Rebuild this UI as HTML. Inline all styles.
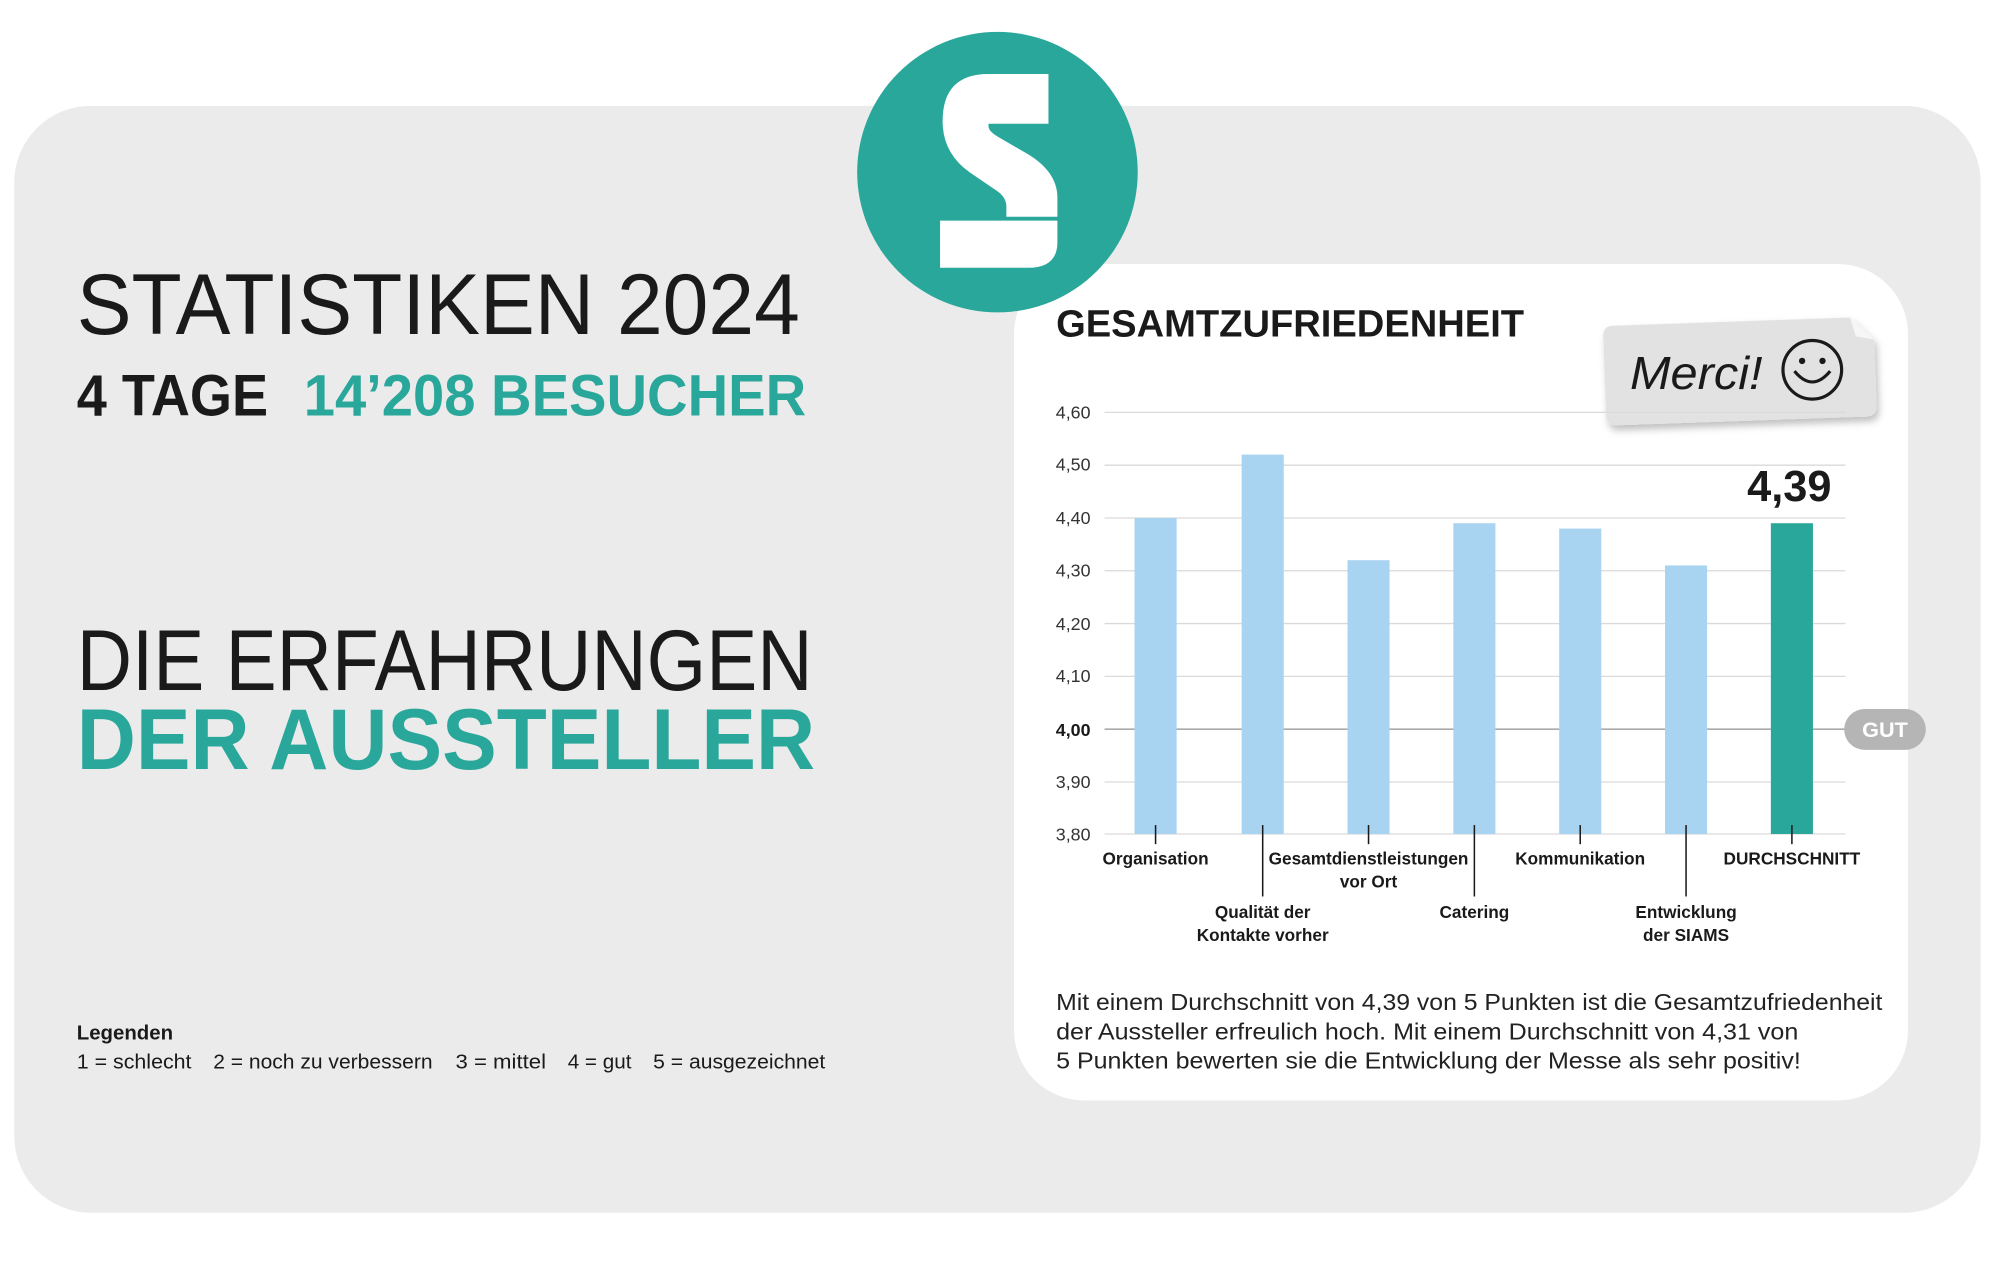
<!DOCTYPE html>
<html><head><meta charset="utf-8"><style>html,body{margin:0;padding:0;background:#fff}svg{display:block}text{font-family:"Liberation Sans",sans-serif}</style></head><body>
<svg width="2000" height="1265" viewBox="0 0 1568 992" xmlns="http://www.w3.org/2000/svg">
<defs><filter id="sh" x="-10%" y="-10%" width="130%" height="140%"><feDropShadow dx="2" dy="4" stdDeviation="3" flood-opacity="0.25"/></filter></defs>
<rect x="0" y="0" width="1568" height="992" fill="#fff"/>
<rect x="11" y="83" width="1542" height="868" rx="60" fill="#ecebeb"/>
<text x="60" y="262" font-size="68" textLength="567" lengthAdjust="spacingAndGlyphs" fill="#1a1a1a">STATISTIKEN 2024</text>
<text x="60" y="326" font-size="46" font-weight="bold" textLength="150" lengthAdjust="spacingAndGlyphs" fill="#1a1a1a">4 TAGE</text>
<text x="238" y="326" font-size="46" font-weight="bold" textLength="394" lengthAdjust="spacingAndGlyphs" fill="#2aa79b">14’208 BESUCHER</text>
<text x="60" y="541" font-size="68" textLength="577" lengthAdjust="spacingAndGlyphs" fill="#1a1a1a">DIE ERFAHRUNGEN</text>
<text x="60" y="603" font-size="68" font-weight="bold" textLength="579" lengthAdjust="spacingAndGlyphs" fill="#2aa79b">DER AUSSTELLER</text>
<text x="60" y="815" font-size="16" font-weight="bold" fill="#1a1a1a">Legenden</text>
<g font-size="16" fill="#1a1a1a">
<text x="60" y="838" textLength="90" lengthAdjust="spacingAndGlyphs">1 = schlecht</text>
<text x="167" y="838" textLength="172" lengthAdjust="spacingAndGlyphs">2 = noch zu verbessern</text>
<text x="357" y="838" textLength="71" lengthAdjust="spacingAndGlyphs">3 = mittel</text>
<text x="445" y="838" textLength="50" lengthAdjust="spacingAndGlyphs">4 = gut</text>
<text x="512" y="838" textLength="135" lengthAdjust="spacingAndGlyphs">5 = ausgezeichnet</text>
</g>
<rect x="795" y="207" width="701" height="656" rx="55" fill="#fff"/>
<circle cx="782" cy="135" r="110" fill="#2aa79b"/>
<path d="M822 58 L775 58 Q739 58 739 95 Q739 120 760 135 L782 150 Q789 155 789 162 L789 170 L829 170 L829 155 Q829 135 806 121 L782 107 Q775 103 775 99 L775 97 L822 97 Z" fill="#fff"/>
<path d="M737 173 L829 173 L829 190 Q829 210 806 210 L737 210 Z" fill="#fff"/>
<text x="828" y="264" font-size="30" font-weight="bold" textLength="367" lengthAdjust="spacingAndGlyphs" fill="#1a1a1a">GESAMTZUFRIEDENHEIT</text>
<g transform="rotate(-2 1363 290)" filter="url(#sh)">
<path d="M1266 252 H1452 L1470 270 V322 Q1470 330 1462 330 H1266 Q1258 330 1258 322 V260 Q1258 252 1266 252 Z" fill="#e2e2e2"/>
<path d="M1452 252 L1470 270 L1456 267 Z" fill="#f6f6f6"/>
</g>
<text x="1278" y="305" font-size="36" font-style="italic" fill="#1a1a1a" font-family="Liberation Serif, serif" textLength="104" lengthAdjust="spacingAndGlyphs">Merci!</text>
<circle cx="1421" cy="290" r="23" fill="none" stroke="#1a1a1a" stroke-width="2.5"/>
<circle cx="1413" cy="283" r="2.5" fill="#1a1a1a"/><circle cx="1429" cy="283" r="2.5" fill="#1a1a1a"/>
<path d="M1407 291 Q1421 308 1435 291" fill="none" stroke="#1a1a1a" stroke-width="2.5"/>
<g stroke="#dadada" stroke-width="1">
<line x1="866" y1="323.4" x2="1447" y2="323.4"/><line x1="866" y1="364.8" x2="1447" y2="364.8"/>
<line x1="866" y1="406.2" x2="1447" y2="406.2"/><line x1="866" y1="447.6" x2="1447" y2="447.6"/>
<line x1="866" y1="489" x2="1447" y2="489"/><line x1="866" y1="530.4" x2="1447" y2="530.4"/>
<line x1="866" y1="613.2" x2="1447" y2="613.2"/><line x1="866" y1="654" x2="1447" y2="654"/>
</g>
<line x1="866" y1="571.8" x2="1447" y2="571.8" stroke="#aaa" stroke-width="1.3"/>
<g font-size="14" fill="#333" text-anchor="end">
<text x="855" y="328">4,60</text><text x="855" y="369">4,50</text><text x="855" y="411">4,40</text>
<text x="855" y="452">4,30</text><text x="855" y="494">4,20</text><text x="855" y="535">4,10</text>
<text x="855" y="577" font-weight="bold" fill="#1a1a1a">4,00</text><text x="855" y="618">3,90</text><text x="855" y="659">3,80</text>
</g>
<g fill="#a8d4f2">
<rect x="889.5" y="406.2" width="33" height="247.8"/>
<rect x="973.5" y="356.5" width="33" height="297.5"/>
<rect x="1056.5" y="439.3" width="33" height="214.7"/>
<rect x="1139.5" y="410.3" width="33" height="243.7"/>
<rect x="1222.5" y="414.5" width="33" height="239.5"/>
<rect x="1305.5" y="443.4" width="33" height="210.6"/>
</g>
<rect x="1388.5" y="410.3" width="33" height="243.7" fill="#2aa79b"/>
<g stroke="#1a1a1a" stroke-width="1.2">
<line x1="906" y1="647" x2="906" y2="662"/><line x1="990" y1="647" x2="990" y2="703"/>
<line x1="1073" y1="647" x2="1073" y2="662"/><line x1="1156" y1="647" x2="1156" y2="703"/>
<line x1="1239" y1="647" x2="1239" y2="662"/><line x1="1322" y1="647" x2="1322" y2="703"/>
<line x1="1405" y1="647" x2="1405" y2="662"/>
</g>
<g font-size="13.5" font-weight="bold" fill="#1a1a1a" text-anchor="middle">
<text x="906" y="678">Organisation</text>
<text x="1073" y="678">Gesamtdienstleistungen</text><text x="1073" y="696">vor Ort</text>
<text x="1239" y="678">Kommunikation</text>
<text x="1405" y="678">DURCHSCHNITT</text>
<text x="990" y="720">Qualität der</text><text x="990" y="738">Kontakte vorher</text>
<text x="1156" y="720">Catering</text>
<text x="1322" y="720">Entwicklung</text><text x="1322" y="738">der SIAMS</text>
</g>
<text x="1403" y="393" font-size="34" font-weight="bold" fill="#1a1a1a" text-anchor="middle">4,39</text>
<rect x="1446" y="556" width="64" height="32" rx="16" fill="#b5b5b5"/>
<text x="1478" y="578" font-size="17" font-weight="bold" fill="#fff" text-anchor="middle">GUT</text>
<g font-size="18" fill="#222">
<text x="828" y="792" textLength="648" lengthAdjust="spacingAndGlyphs">Mit einem Durchschnitt von 4,39 von 5 Punkten ist die Gesamtzufriedenheit</text>
<text x="828" y="815" textLength="582" lengthAdjust="spacingAndGlyphs">der Aussteller erfreulich hoch. Mit einem Durchschnitt von 4,31 von</text>
<text x="828" y="838" textLength="584" lengthAdjust="spacingAndGlyphs">5 Punkten bewerten sie die Entwicklung der Messe als sehr positiv!</text>
</g>
</svg>
</body></html>
